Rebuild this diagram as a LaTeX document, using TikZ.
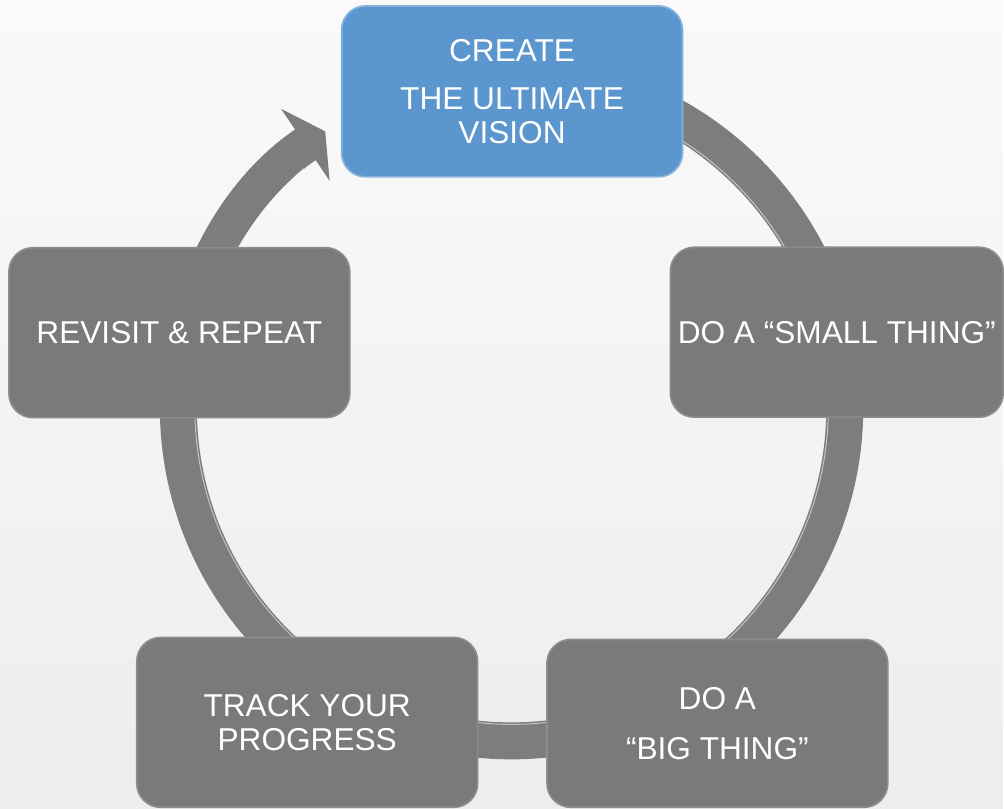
\documentclass[tikz,border=0pt]{standalone}
\usepackage{fontspec}
\setmainfont{Liberation Sans}
\usetikzlibrary{arrows.meta}

\definecolor{stagegray}{HTML}{7A7A7A}
\definecolor{ringgray}{HTML}{7D7D7D}
\definecolor{visionblue}{HTML}{5B97CE}

\begin{document}
\begin{tikzpicture}[x=0.025cm, y=0.025cm]
	\tikzstyle{stage} = [rectangle, rounded corners=0.6cm, fill=stagegray, draw=gray!90, line width=1.2pt, text=white, align=center, minimum width=8.525cm, minimum height=4.25cm, inner sep=0pt, font=\fontsize{22.5}{24.2}\selectfont];
	\tikzstyle{vision} = [stage, fill=visionblue, draw=visionblue!75!white];
	
	\shade[top color=white!98!black, bottom color=white!93!black] (0,0) rectangle (1004,809);
	
	\coordinate (hub) at (512, 401);
	
	% the cycle
	\draw[ringgray, line width=0.925cm, -{Triangle[width=2.15cm,length=0.6cm]}] (hub) ++(95:333.5) arc[start angle=95, end angle=-236, radius=333.5];
	\draw[white, opacity=0.55, line width=0.7pt] (hub) ++(95:317) arc[start angle=95, end angle=-229, radius=317];
	
	\node[vision, minimum height=4.275cm] at (512.5, 717.5) (vision) {CREATE\\[10pt]THE ULTIMATE\\VISION};
	
	\node[stage, minimum width=8.325cm] at (837.5, 476.5) (small) {DO A “SMALL THING”};
	\node[stage, minimum height=4.2cm] at (718, 85) (big) {DO A\\[11.4pt]“BIG THING”};
	\node[stage] at (307.5, 86) (track) {TRACK YOUR\\PROGRESS};
	\node[stage] at (179.5, 476) (revisit) {REVISIT \& REPEAT};

\end{tikzpicture}
\end{document}
